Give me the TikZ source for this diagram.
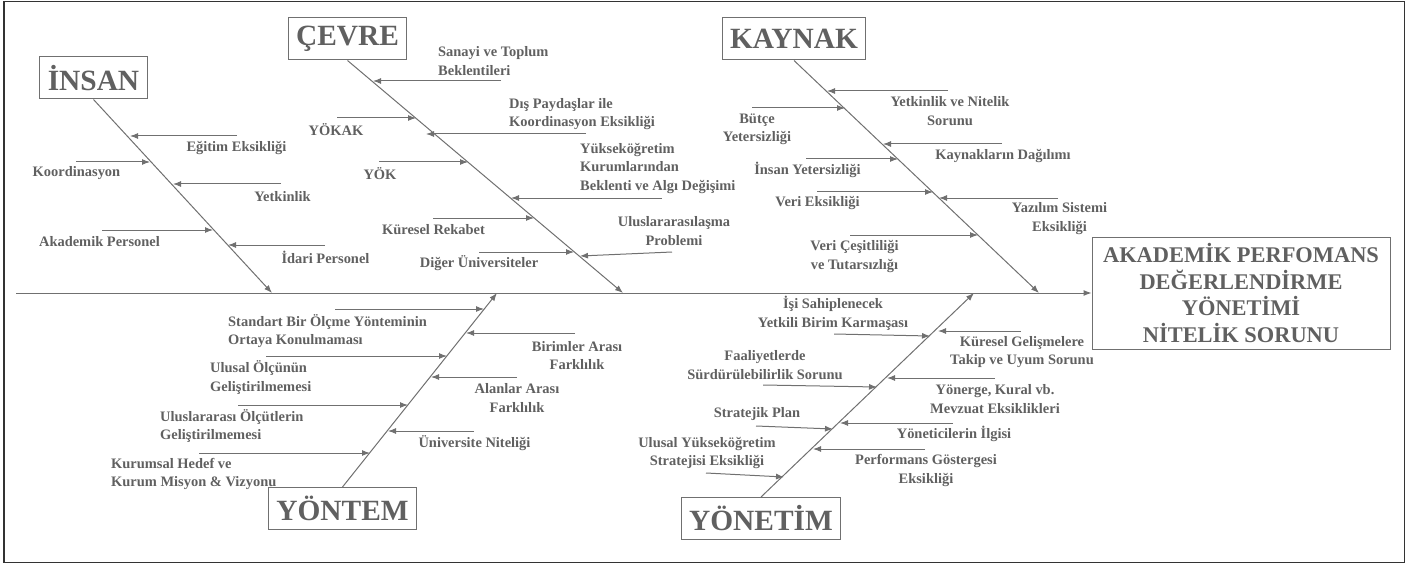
\documentclass[tikz,border=0pt]{standalone}
\usepackage{fontspec}
\setmainfont{Liberation Serif}
\usetikzlibrary{arrows.meta}
\definecolor{inkgray}{RGB}{96,96,96}
\definecolor{linegray}{RGB}{112,112,112}

\begin{document}
\begin{tikzpicture}[x=1bp, y=-1bp, every node/.style={font=\bfseries\fontsize{14.5}{18.5}\selectfont, text=inkgray}, catbox/.style={draw=linegray, line width=1bp, inner xsep=8bp, inner ysep=0bp, minimum height=42bp, font=\bfseries\fontsize{29.5}{30}\selectfont}, effbox/.style={draw=linegray, line width=1bp, align=center, minimum width=298bp, minimum height=112bp, font=\bfseries\fontsize{22.5}{26.5}\selectfont}, cause/.style={inner sep=0pt, align=center}, causeL/.style={inner sep=0pt, align=left, anchor=west}, arr/.style={-{Latex[length=8bp,width=6bp]}, draw=linegray, line width=1bp}]
\useasboundingbox (0,0) rectangle (1407,564);
\draw[line width=1.5bp, black!80] (4,1.5) rectangle (1404.5,562.5);
% head and spine
\node[effbox] (effect) at (1241,293) {AKADEMİK PERFOMANS\\DEĞERLENDİRME\\YÖNETİMİ\\NİTELİK SORUNU};
\coordinate (tail) at (16,293);
\draw[arr] (tail) -- (effect.west);
% main categories
\node[catbox] (insan) at (93.5,78) {İNSAN};
\node[catbox] (cevre) at (347.5,39) {ÇEVRE};
\node[catbox] (kaynak) at (794,39) {KAYNAK};
\node[catbox] (yontem) at (342.5,508.5) {YÖNTEM};
\node[catbox] (yonetim) at (761,518.5) {YÖNETİM};
\coordinate (insanH) at (272,293); \coordinate (cevreH) at (623,293); \coordinate (kaynakH) at (1039,293); \coordinate (yontemH) at (497,293); \coordinate (yonetimH) at (974,293);
\draw[arr] (insan.south) -- (insanH); \draw[arr] (cevre.south) -- (cevreH); \draw[arr] (kaynak.south) -- (kaynakH); \draw[arr] (yontem.north) -- (yontemH); \draw[arr] (yonetim.north) -- (yonetimH);

% insan
\node[cause] (egitim) at (236.5,148) {Eğitim Eksikliği};
\node[cause] (koord) at (76.5,173) {Koordinasyon};
\node[cause] (yetkin) at (282.5,197) {Yetkinlik};
\node[cause] (akadem) at (99.5,242) {Akademik Personel};
\node[cause] (idari) at (325.5,257) {İdari Personel};
\coordinate (egitimA) at (237,136); \coordinate (egitimB) at (130,136);
\coordinate (koordA) at (76,162); \coordinate (koordB) at (150,162);
\coordinate (yetkinA) at (281,184); \coordinate (yetkinB) at (173,184);
\coordinate (akademA) at (102,230); \coordinate (akademB) at (213,230);
\coordinate (idariA) at (325,245); \coordinate (idariB) at (228,245);
\draw[arr] (egitimA) -- (egitimB); \draw[arr] (koordA) -- (koordB); \draw[arr] (yetkinA) -- (yetkinB); \draw[arr] (akademA) -- (akademB); \draw[arr] (idariA) -- (idariB);

% cevre
\node[causeL] (sanayi) at (438,61) {Sanayi ve Toplum\\Beklentileri};
\node[cause] (yokak) at (336,130) {YÖKAK};
\node[causeL] (paydas) at (509,114) {Dış Paydaşlar ile\\Koordinasyon Eksikliği};
\node[cause] (yok) at (380,174) {YÖK};
\node[causeL] (beklenti) at (580,168.5) {Yükseköğretim\\Kurumlarından\\Beklenti ve Algı Değişimi};
\node[cause] (rekabet) at (433.5,230) {Küresel Rekabet};
\node[cause] (ulusl) at (674,231) {Uluslararasılaşma\\Problemi};
\node[cause] (diger) at (479,263) {Diğer Üniversiteler};
\coordinate (sanayiA) at (501,81); \coordinate (sanayiB) at (373,81);
\coordinate (yokakA) at (337,118); \coordinate (yokakB) at (416,118);
\coordinate (paydasA) at (586,134); \coordinate (paydasB) at (426,134);
\coordinate (yokA) at (379,162); \coordinate (yokB) at (468,162);
\coordinate (beklentiA) at (662,198); \coordinate (beklentiB) at (511,198);
\coordinate (rekabetA) at (433,218); \coordinate (rekabetB) at (534,218);
\coordinate (uluslA) at (672,252); \coordinate (uluslB) at (580,256);
\coordinate (digerA) at (479,252); \coordinate (digerB) at (574,252);
\draw[arr] (sanayiA) -- (sanayiB); \draw[arr] (yokakA) -- (yokakB); \draw[arr] (paydasA) -- (paydasB); \draw[arr] (yokA) -- (yokB); \draw[arr] (beklentiA) -- (beklentiB); \draw[arr] (rekabetA) -- (rekabetB); \draw[arr] (uluslA) -- (uluslB); \draw[arr] (digerA) -- (digerB);

% kaynak
\node[cause] (nitelik) at (950,111) {Yetkinlik ve Nitelik\\Sorunu};
\node[cause] (butce) at (757,129) {Bütçe\\Yetersizliği};
\node[cause] (dagilim) at (1003,156) {Kaynakların Dağılımı};
\node[cause] (insanY) at (807.5,170) {İnsan Yetersizliği};
\node[cause] (veri) at (817.5,203) {Veri Eksikliği};
\node[cause] (yazilim) at (1059.5,218.5) {Yazılım Sistemi\\Eksikliği};
\node[cause] (cesit) at (854.5,256.5) {Veri Çeşitliliği\\ve Tutarsızlığı};
\coordinate (nitelikA) at (948,91); \coordinate (nitelikB) at (827,91);
\coordinate (butceA) at (752,108); \coordinate (butceB) at (845,108);
\coordinate (dagilimA) at (1002,144); \coordinate (dagilimB) at (883,144);
\coordinate (insanYA) at (806,159); \coordinate (insanYB) at (898,159);
\coordinate (veriA) at (817,192); \coordinate (veriB) at (933,192);
\coordinate (yazilimA) at (1058,198); \coordinate (yazilimB) at (939,198);
\coordinate (cesitA) at (850,235); \coordinate (cesitB) at (978,235);
\draw[arr] (nitelikA) -- (nitelikB); \draw[arr] (butceA) -- (butceB); \draw[arr] (dagilimA) -- (dagilimB); \draw[arr] (insanYA) -- (insanYB); \draw[arr] (veriA) -- (veriB); \draw[arr] (yazilimA) -- (yazilimB); \draw[arr] (cesitA) -- (cesitB);

% yontem
\node[causeL] (standart) at (228,331) {Standart Bir Ölçme Yönteminin\\Ortaya Konulmaması};
\node[cause] (birimler) at (577,355.5) {Birimler Arası\\Farklılık};
\node[causeL] (ulusal) at (210,377.5) {Ulusal Ölçünün\\Geliştirilmemesi};
\node[cause] (alanlar) at (517,398) {Alanlar Arası\\Farklılık};
\node[causeL] (olcut) at (160,426) {Uluslararası Ölçütlerin\\Geliştirilmemesi};
\node[cause] (univ) at (474.5,443) {Üniversite Niteliği};
\node[causeL] (hedef) at (111,474) {Kurumsal Hedef ve\\Kurum Misyon \& Vizyonu};
\coordinate (standartA) at (335,309); \coordinate (standartB) at (484,309);
\coordinate (birimlerA) at (575,333); \coordinate (birimlerB) at (466,333);
\coordinate (ulusalA) at (266,356); \coordinate (ulusalB) at (447,356);
\coordinate (alanlarA) at (517,377); \coordinate (alanlarB) at (431,377);
\coordinate (olcutA) at (238,405); \coordinate (olcutB) at (408,405);
\coordinate (univA) at (474,431); \coordinate (univB) at (388,431);
\coordinate (hedefA) at (199,453); \coordinate (hedefB) at (370,453);
\draw[arr] (standartA) -- (standartB); \draw[arr] (birimlerA) -- (birimlerB); \draw[arr] (ulusalA) -- (ulusalB); \draw[arr] (alanlarA) -- (alanlarB); \draw[arr] (olcutA) -- (olcutB); \draw[arr] (univA) -- (univB); \draw[arr] (hedefA) -- (hedefB);

% yonetim
\node[cause] (sahip) at (833,313.5) {İşi Sahiplenecek\\Yetkili Birim Karmaşası};
\node[cause] (kuresel) at (1022,352) {Küresel Gelişmelere\\Takip ve Uyum Sorunu};
\node[cause] (faaliyet) at (765,365) {Faaliyetlerde\\Sürdürülebilirlik Sorunu};
\node[cause] (yonerge) at (995,399) {Yönerge, Kural vb.\\Mevzuat Eksiklikleri};
\node[cause] (plan) at (757,414) {Stratejik Plan};
\node[cause] (ilgi) at (954,434) {Yöneticilerin İlgisi};
\node[cause] (strateji) at (707,453) {Ulusal Yükseköğretim\\Stratejisi Eksikliği};
\node[cause] (gosterge) at (926,470.5) {Performans Göstergesi\\Eksikliği};
\coordinate (sahipA) at (834,334); \coordinate (sahipB) at (930,336);
\coordinate (kureselA) at (1021,331); \coordinate (kureselB) at (938,331);
\coordinate (faaliyetA) at (763,385); \coordinate (faaliyetB) at (877,387);
\coordinate (yonergeA) at (995,378); \coordinate (yonergeB) at (887,378);
\coordinate (planA) at (756,426); \coordinate (planB) at (833,429);
\coordinate (ilgiA) at (953,423); \coordinate (ilgiB) at (840,423);
\coordinate (stratejiA) at (706,473); \coordinate (stratejiB) at (784,477);
\coordinate (gostergeA) at (925,449); \coordinate (gostergeB) at (813,449);
\draw[arr] (sahipA) -- (sahipB); \draw[arr] (kureselA) -- (kureselB); \draw[arr] (faaliyetA) -- (faaliyetB); \draw[arr] (yonergeA) -- (yonergeB); \draw[arr] (planA) -- (planB); \draw[arr] (ilgiA) -- (ilgiB); \draw[arr] (stratejiA) -- (stratejiB); \draw[arr] (gostergeA) -- (gostergeB);
\end{tikzpicture}
\end{document}
